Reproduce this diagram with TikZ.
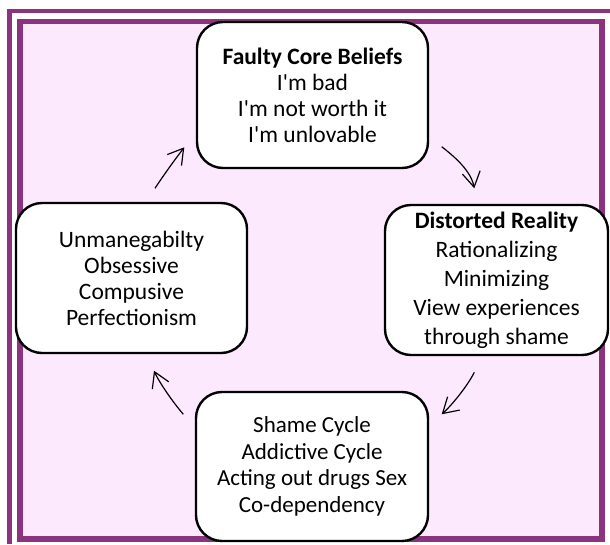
\documentclass[tikz,border=0pt]{standalone}
\usepackage{fontspec}
\setmainfont{Carlito}[Ligatures=TeXOff]
\usetikzlibrary{arrows.meta}
\definecolor{framepurple}{RGB}{139,52,125}
\definecolor{pinkbg}{RGB}{253,233,253}
\tikzset{
  cyclebox/.style={draw=black, line width=2.4pt, fill=white, rounded corners=26pt,
    align=center, inner sep=0pt, font=\fontsize{23.5}{26}\selectfont},
  cyclearrow/.style={line width=1.2pt, -{Straight Barb[length=15pt,width=18pt]}},
  outerline/.style={draw=framepurple, line width=4.5pt},
  innerline/.style={draw=framepurple, line width=5.5pt},
}
\begin{document}
\begin{tikzpicture}[x=1pt, y=-1pt]
\useasboundingbox (0,0) rectangle (610,544);
% frame
\draw[outerline] (9.5,544) -- (9.5,11) -- (610,11);
\draw[innerline, fill=pinkbg] (20,21.5) rectangle (602,539);
% boxes
\node[cyclebox, minimum width=231pt, minimum height=146pt] (core) at (312.5,95)
  {\textbf{Faulty Core Beliefs}\\I'm bad\\I'm not worth it\\I'm unlovable};
\node[cyclebox, minimum width=223pt, minimum height=150pt, font=\fontsize{23.5}{29}\selectfont] (distort) at (496.5,280)
  {\textbf{Distorted Reality}\\Rationalizing\\Minimizing\\View experiences\\through shame};
\node[cyclebox, minimum width=231pt, minimum height=150pt] (unman) at (131.5,278)
  {Unmanegabilty\\Obsessive\\Compusive\\Perfectionism};
\node[cyclebox, minimum width=232pt, minimum height=149pt, font=\fontsize{23}{26.5}\selectfont] (shame) at (312,466.5)
  {Shame Cycle\\Addictive Cycle\\Acting out drugs Sex\\Co-dependency};
% arrow end points
\coordinate (a1s) at (441.7,146.7);
\coordinate (a1e) at (474.3,188.3);
\coordinate (a2s) at (474.3,372.3);
\coordinate (a2e) at (441.7,414.3);
\coordinate (a3s) at (183.3,414.3);
\coordinate (a3e) at (154,370.7);
\coordinate (a4s) at (155,188.3);
\coordinate (a4e) at (184.3,147.3);
% arrows
\draw[cyclearrow] (a1s) .. controls (455,157) and (471,171) .. (a1e);
\draw[cyclearrow] (a2s) .. controls (468,385) and (453,404) .. (a2e);
\draw[cyclearrow] (a3s) .. controls (172,401) and (159,382) .. (a3e);
\draw[cyclearrow] (a4s) .. controls (163,176) and (176,158) .. (a4e);
\end{tikzpicture}
\end{document}
